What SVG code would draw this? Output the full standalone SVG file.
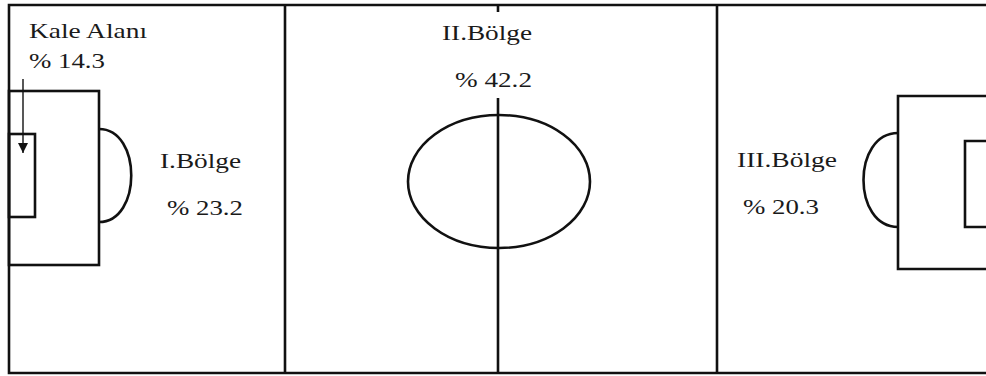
<svg xmlns="http://www.w3.org/2000/svg" width="986" height="376" viewBox="0 0 986 376">
  <style>
    .ln { fill: none; stroke: #111; stroke-width: 2.6; }
    .thin { fill: none; stroke: #111; stroke-width: 1.4; }
    .tx { font-family: "Liberation Serif", "Times New Roman", serif; font-size: 21px; fill: #1a1a1a; }
  </style>
  <defs>
    <marker id="ah" markerWidth="10" markerHeight="10" refX="10" refY="5" orient="auto" markerUnits="userSpaceOnUse" viewBox="0 0 10 10">
      <path d="M0,0 L10,5 L0,10 Z" fill="#111"/>
    </marker>
  </defs>
  <rect width="986" height="376" fill="#fff"/>
  <g id="field">
    <path class="ln" d="M988,5 L9,5 L9,373 L988,373"/>
    <line class="ln" x1="285" y1="5" x2="285" y2="373"/>
    <line class="ln" x1="717" y1="5" x2="717" y2="373"/>
    <line class="ln" x1="498" y1="5" x2="498" y2="12"/>
    <line class="ln" x1="498" y1="98" x2="498" y2="373"/>
    <ellipse class="ln" cx="499" cy="181.5" rx="91" ry="66.5"/>
  </g>
  <g id="left-area">
    <rect class="ln" x="9" y="91" width="90" height="174"/>
    <rect class="ln" x="9" y="134" width="26" height="83"/>
    <path class="ln" d="M99,129 C142,129 142,222 99,222"/>
  </g>
  <g id="right-area">
    <path class="ln" d="M988,96 L898,96 L898,269 L988,269"/>
    <path class="ln" d="M988,141 L965,141 L965,227 L988,227"/>
    <path class="ln" d="M898,133 C852,133 852,227 898,227"/>
  </g>
  <g id="connectors">
    <line class="thin" x1="23" y1="79" x2="23" y2="153" marker-end="url(#ah)"/>
  </g>
  <g id="label-kale">
    <text class="tx" x="29" y="38" textLength="118" lengthAdjust="spacingAndGlyphs">Kale Alanı</text>
    <text class="tx" x="29" y="68" textLength="76" lengthAdjust="spacingAndGlyphs">% 14.3</text>
  </g>
  <g id="label-1">
    <text class="tx" x="160" y="168" textLength="81" lengthAdjust="spacingAndGlyphs">I.Bölge</text>
    <text class="tx" x="167" y="215" textLength="76" lengthAdjust="spacingAndGlyphs">% 23.2</text>
  </g>
  <g id="label-2">
    <text class="tx" x="442" y="40" textLength="90" lengthAdjust="spacingAndGlyphs">II.Bölge</text>
    <text class="tx" x="455" y="87" textLength="77" lengthAdjust="spacingAndGlyphs">% 42.2</text>
  </g>
  <g id="label-3">
    <text class="tx" x="737" y="167" textLength="100" lengthAdjust="spacingAndGlyphs">III.Bölge</text>
    <text class="tx" x="743" y="214" textLength="76" lengthAdjust="spacingAndGlyphs">% 20.3</text>
  </g>
</svg>
